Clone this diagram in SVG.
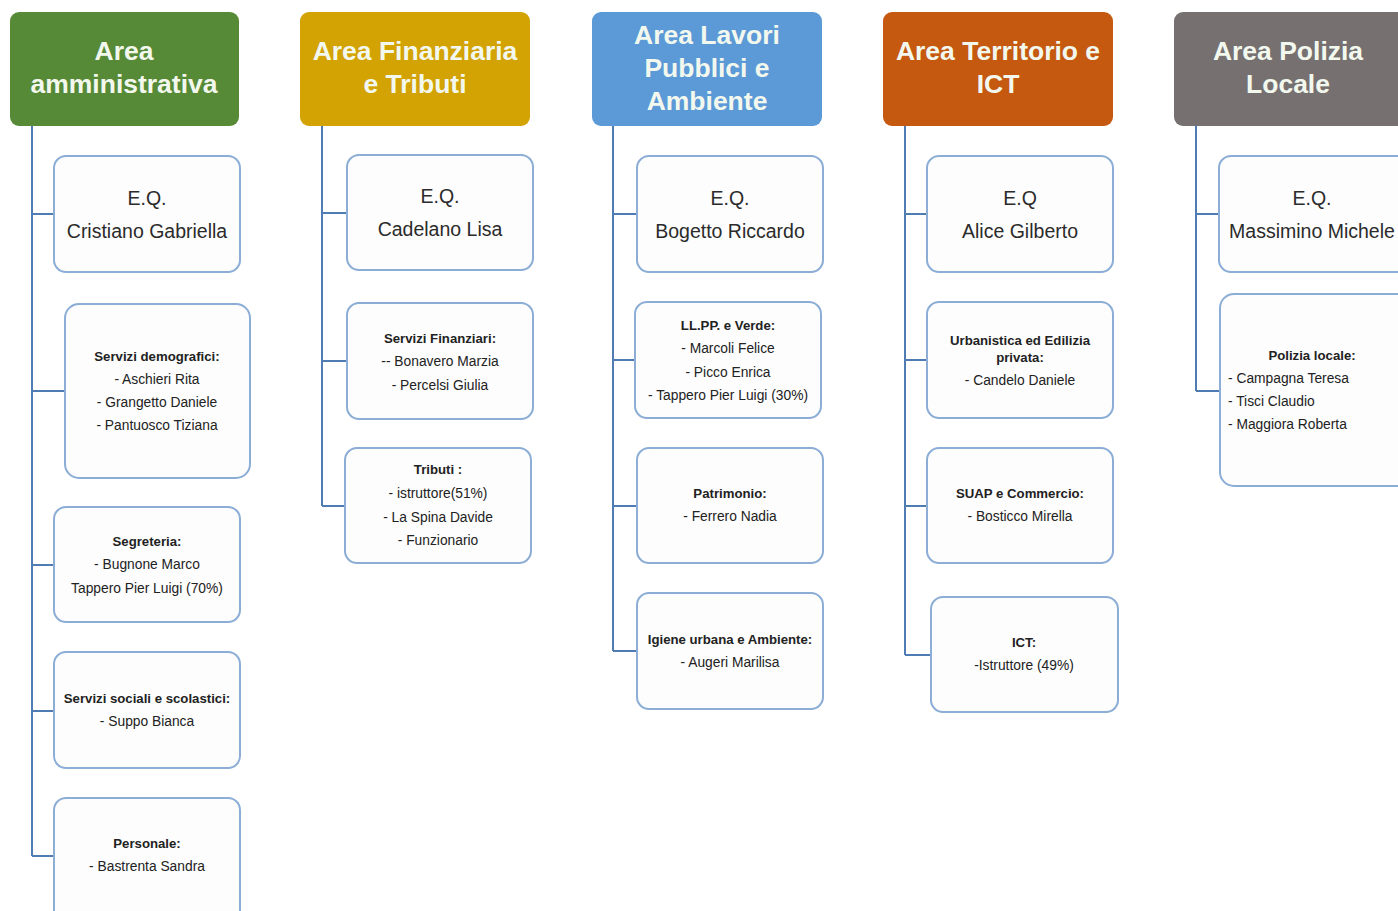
<svg xmlns="http://www.w3.org/2000/svg" width="1398" height="911" viewBox="0 0 1398 911">
<style>
.hd{stroke:none}
.ht{font-family:"Liberation Sans",Arial,sans-serif;font-weight:bold;font-size:26.5px;fill:#f3f8ef;text-anchor:middle}
.bx{fill:#fdfdfd;stroke:#8badd6;stroke-width:2}
.eq{font-family:"Liberation Sans",Arial,sans-serif;font-size:19.5px;fill:#2b2b2b;text-anchor:middle}
.t{font-family:"Liberation Sans",Arial,sans-serif;font-size:13.8px;fill:#222;text-anchor:middle}
.b{font-weight:bold;font-size:13.2px}
.l{text-anchor:start}
.cn{stroke:#4f7db3;stroke-width:2;fill:none}
</style>
<rect width="1398" height="911" fill="#ffffff"/>
<g id="connectors">
<path class="cn" d="M32 126V856M32 214H54M32 391H65M32 565H54M32 711H54M32 856H54"/>
<path class="cn" d="M322 126V506M322 213H347M322 361H347M322 506H345"/>
<path class="cn" d="M613 126V651M613 214H637M613 360H635M613 506H637M613 651H637"/>
<path class="cn" d="M905 126V655M905 214H927M905 360H927M905 506H927M905 655H931"/>
<path class="cn" d="M1196 126V391M1196 214H1219M1196 391H1220"/>
</g>
<g id="h1"><rect class="hd" x="10" y="12" width="229" height="114" rx="9" fill="#578a36"/><text class="ht" x="124" y="60">Area</text><text class="ht" x="124" y="93">amministrativa</text></g>
<g id="h2"><rect class="hd" x="300" y="12" width="230" height="114" rx="9" fill="#d3a203"/><text class="ht" x="415" y="60">Area Finanziaria</text><text class="ht" x="415" y="93">e Tributi</text></g>
<g id="h3"><rect class="hd" x="592" y="12" width="230" height="114" rx="9" fill="#5b9ad6"/><text class="ht" x="707" y="44">Area Lavori</text><text class="ht" x="707" y="77">Pubblici e</text><text class="ht" x="707" y="110">Ambiente</text></g>
<g id="h4"><rect class="hd" x="883" y="12" width="230" height="114" rx="9" fill="#c5590f"/><text class="ht" x="998" y="60">Area Territorio e</text><text class="ht" x="998" y="93">ICT</text></g>
<g id="h5"><rect class="hd" x="1174" y="12" width="236" height="114" rx="9" fill="#767070"/><text class="ht" x="1288" y="60">Area Polizia</text><text class="ht" x="1288" y="93">Locale</text></g>

<g id="n1a"><rect class="bx" x="54" y="156" width="186" height="116" rx="12"/><text class="eq" x="147" y="205">E.Q.</text><text class="eq" x="147" y="238">Cristiano Gabriella</text></g>
<g id="n1b"><rect class="bx" x="65" y="304" width="185" height="174" rx="14"/><text class="t b" x="157" y="361">Servizi demografici:</text><text class="t" x="157" y="384">- Aschieri Rita</text><text class="t" x="157" y="407">- Grangetto Daniele</text><text class="t" x="157" y="430">- Pantuosco Tiziana</text></g>
<g id="n1c"><rect class="bx" x="54" y="507" width="186" height="115" rx="12"/><text class="t b" x="147" y="546">Segreteria:</text><text class="t" x="147" y="569">- Bugnone Marco</text><text class="t" x="147" y="593">Tappero Pier Luigi (70%)</text></g>
<g id="n1d"><rect class="bx" x="54" y="652" width="186" height="116" rx="12"/><text class="t b" x="147" y="703">Servizi sociali e scolastici:</text><text class="t" x="147" y="726">- Suppo Bianca</text></g>
<g id="n1e"><rect class="bx" x="54" y="798" width="186" height="130" rx="12"/><text class="t b" x="147" y="848">Personale:</text><text class="t" x="147" y="871">- Bastrenta Sandra</text></g>

<g id="n2a"><rect class="bx" x="347" y="155" width="186" height="115" rx="12"/><text class="eq" x="440" y="203">E.Q.</text><text class="eq" x="440" y="236">Cadelano Lisa</text></g>
<g id="n2b"><rect class="bx" x="347" y="303" width="186" height="116" rx="12"/><text class="t b" x="440" y="343">Servizi Finanziari:</text><text class="t" x="440" y="366">-- Bonavero Marzia</text><text class="t" x="440" y="390">- Percelsi Giulia</text></g>
<g id="n2c"><rect class="bx" x="345" y="448" width="186" height="115" rx="12"/><text class="t b" x="438" y="474">Tributi :</text><text class="t" x="438" y="498">- istruttore(51%)</text><text class="t" x="438" y="522">- La Spina Davide</text><text class="t" x="438" y="545">- Funzionario</text></g>

<g id="n3a"><rect class="bx" x="637" y="156" width="186" height="116" rx="12"/><text class="eq" x="730" y="205">E.Q.</text><text class="eq" x="730" y="238">Bogetto Riccardo</text></g>
<g id="n3b"><rect class="bx" x="635" y="302" width="186" height="116" rx="12"/><text class="t b" x="728" y="330">LL.PP. e Verde:</text><text class="t" x="728" y="353">- Marcoli Felice</text><text class="t" x="728" y="377">- Picco Enrica</text><text class="t" x="728" y="400">- Tappero Pier Luigi (30%)</text></g>
<g id="n3c"><rect class="bx" x="637" y="448" width="186" height="115" rx="12"/><text class="t b" x="730" y="498">Patrimonio:</text><text class="t" x="730" y="521">- Ferrero Nadia</text></g>
<g id="n3d"><rect class="bx" x="637" y="593" width="186" height="116" rx="12"/><text class="t b" x="730" y="644">Igiene urbana e Ambiente:</text><text class="t" x="730" y="667">- Augeri Marilisa</text></g>

<g id="n4a"><rect class="bx" x="927" y="156" width="186" height="116" rx="12"/><text class="eq" x="1020" y="205">E.Q</text><text class="eq" x="1020" y="238">Alice Gilberto</text></g>
<g id="n4b"><rect class="bx" x="927" y="302" width="186" height="116" rx="12"/><text class="t b" x="1020" y="345">Urbanistica ed Edilizia</text><text class="t b" x="1020" y="362">privata:</text><text class="t" x="1020" y="385">- Candelo Daniele</text></g>
<g id="n4c"><rect class="bx" x="927" y="448" width="186" height="115" rx="12"/><text class="t b" x="1020" y="498">SUAP e Commercio:</text><text class="t" x="1020" y="521">- Bosticco Mirella</text></g>
<g id="n4d"><rect class="bx" x="931" y="597" width="187" height="115" rx="12"/><text class="t b" x="1024" y="647">ICT:</text><text class="t" x="1024" y="670">-Istruttore (49%)</text></g>

<g id="n5a"><rect class="bx" x="1219" y="156" width="200" height="116" rx="12"/><text class="eq" x="1312" y="205">E.Q.</text><text class="eq" x="1312" y="238">Massimino Michele</text></g>
<g id="n5b"><rect class="bx" x="1220" y="294" width="200" height="192" rx="14"/><text class="t b" x="1312" y="360">Polizia locale:</text><text class="t l" x="1228" y="383">- Campagna Teresa</text><text class="t l" x="1228" y="406">- Tisci Claudio</text><text class="t l" x="1228" y="429">- Maggiora Roberta</text></g>
</svg>
